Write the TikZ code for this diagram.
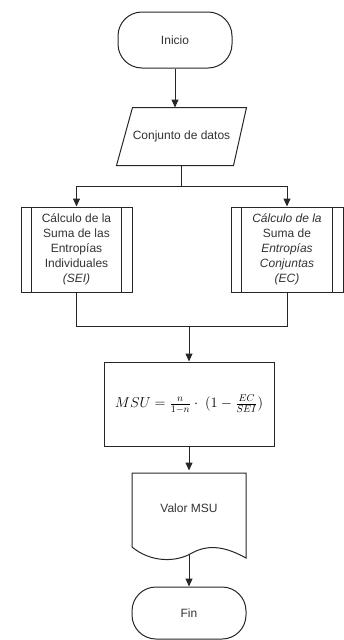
\documentclass[tikz,border=0pt]{standalone}
\usepackage[no-math]{fontspec}
\setmainfont{Liberation Sans}
\usetikzlibrary{arrows.meta,calc}
\begin{document}
\begin{tikzpicture}[x=1pt,y=-1pt, line width=1pt,
  every node/.style={font=\fontsize{12}{15}\selectfont, text=black!80, align=center, inner sep=0pt},
  term/.style={draw=black!85, rounded corners=24pt, minimum width=114pt, minimum height=56pt},
  proc/.style={draw=black!85, minimum width=111pt, minimum height=85pt},
  conn/.style={draw=black!85},
  arr/.style={conn, -{Triangle[length=8pt,width=7pt]}}]
\useasboundingbox (0,0) rectangle (344,640);
% start
\node[term] (ini) at (175,40) {Inicio};
% data input (parallelogram)
\node[minimum width=100pt, minimum height=57pt] (datos) at (181.5,136.5) {Conjunto de datos};
\draw[conn] ([xshift=-14.5pt]datos.south west) -- ([xshift=1.5pt]datos.north west)
  -- ([xshift=14.5pt]datos.north east) -- ([xshift=1.5pt]datos.south east) -- cycle;
\draw[arr] (ini.south) -- (ini.south |- datos.north);
% branch
\coordinate (br) at (181.5,186);
\draw[conn] (datos.south) -- (br);
\node[proc] (sei) at (76.5,249.5) {C\'alculo de la\\Suma de las\\Entrop\'ias\\Individuales\\\textit{(SEI)}};
\node[proc, minimum width=112pt] (ec) at (287,249.5) {\textit{C\'alculo de la}\\Suma de\\\textit{Entrop\'ias}\\\textit{Conjuntas}\\\textit{(EC)}};
\foreach \n in {sei,ec}{
  \draw[conn] ([xshift=11pt]\n.north west) -- ([xshift=11pt]\n.south west);
  \draw[conn] ([xshift=-11pt]\n.north east) -- ([xshift=-11pt]\n.south east);
}
\draw[arr] (br) -| (sei.north);
\draw[arr] (br) -| (ec.north);
% join
\coordinate (jn) at (189,326);
\node[draw=black!85, minimum width=170pt, minimum height=84pt, text=black, font=\fontsize{14}{16}\selectfont] (msu) at (189,404)
  {$MSU = \frac{n}{1-n}\cdot\;\Bigl(1-\frac{EC}{SEI}\Bigr)$};
\draw[conn] (sei.south) |- (jn);
\draw[conn] (ec.south) |- (jn);
\draw[arr] (jn) -- (msu.north);
% document
\node[minimum width=114pt, minimum height=74pt] (doc) at (189,508) {Valor MSU};
\draw[conn] (132,547) .. controls (150,562) and (175,563) .. (192,553)
  .. controls (210,543) and (228,548) .. (246,558) -- (246,473) -- (132,473) -- cycle;
\draw[arr] (msu.south) -- (msu.south |- doc.north);
\coordinate (docb) at (189,553.5);
% end
\node[term, minimum height=52pt] (fin) at (189,613) {Fin};
\draw[arr] (docb) -- (fin.north);
\end{tikzpicture}
\end{document}
